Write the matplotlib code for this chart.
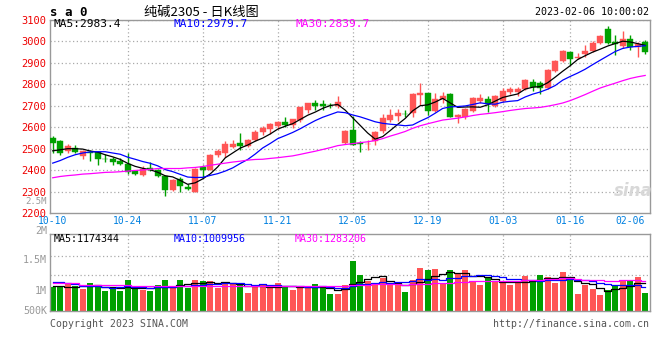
import matplotlib.pyplot as plt
import numpy as np

# ---- data (80 trading days, 2022-10-10 .. 2023-02-06) ----
opens = [2550, 2535, 2489, 2503, 2468, 2485, 2483, 2453, 2452, 2445,
         2430, 2395, 2379, 2410, 2402, 2375, 2306, 2360, 2324, 2299,
         2417, 2399, 2471, 2481, 2506, 2527, 2513, 2539, 2578, 2590,
         2604, 2624, 2608, 2631, 2682, 2714, 2706, 2704, 2700, 2528,
         2589, 2525, 2520, 2538, 2581, 2634, 2653, 2663, 2665, 2749,
         2760, 2677, 2731, 2754, 2645, 2649, 2677, 2723, 2729, 2700,
         2723, 2764, 2761, 2779, 2810, 2805, 2784, 2860, 2906, 2951,
         2921, 2941, 2956, 2989, 3058, 2994, 2979, 3009, 2971, 2997]
highs = [2559, 2540, 2524, 2517, 2493, 2493, 2490, 2474, 2463, 2455,
         2478, 2400, 2418, 2440, 2408, 2378, 2359, 2369, 2337, 2410,
         2425, 2475, 2497, 2536, 2539, 2573, 2547, 2585, 2604, 2619,
         2627, 2645, 2639, 2695, 2714, 2728, 2728, 2711, 2746, 2589,
         2654, 2535, 2539, 2581, 2662, 2683, 2683, 2680, 2757, 2807,
         2760, 2757, 2761, 2757, 2662, 2691, 2741, 2752, 2744, 2749,
         2784, 2788, 2788, 2826, 2825, 2814, 2871, 2910, 2959, 2951,
         2944, 2982, 3000, 3030, 3068, 3027, 3046, 3030, 2997, 3005]
lows = [2479, 2472, 2478, 2478, 2454, 2445, 2426, 2436, 2426, 2424,
        2382, 2377, 2374, 2398, 2367, 2281, 2305, 2298, 2306, 2299,
        2364, 2399, 2463, 2463, 2501, 2494, 2509, 2535, 2562, 2570,
        2593, 2600, 2598, 2624, 2665, 2680, 2680, 2689, 2689, 2523,
        2515, 2484, 2496, 2515, 2573, 2626, 2630, 2645, 2649, 2703,
        2657, 2669, 2714, 2646, 2619, 2639, 2672, 2711, 2672, 2695,
        2715, 2753, 2746, 2773, 2769, 2756, 2779, 2855, 2901, 2890,
        2918, 2924, 2948, 2985, 2985, 2936, 2967, 2959, 2925, 2941]
closes = [2527, 2479, 2512, 2484, 2489, 2482, 2452, 2452, 2436, 2430,
          2390, 2382, 2407, 2402, 2372, 2308, 2356, 2326, 2311, 2407,
          2399, 2471, 2489, 2521, 2521, 2512, 2542, 2578, 2594, 2616,
          2624, 2611, 2636, 2692, 2714, 2697, 2698, 2701, 2718, 2582,
          2518, 2522, 2524, 2576, 2642, 2657, 2666, 2661, 2754, 2760,
          2677, 2731, 2746, 2649, 2657, 2685, 2734, 2737, 2706, 2744,
          2769, 2776, 2776, 2819, 2788, 2784, 2865, 2906, 2956, 2916,
          2928, 2954, 2989, 3024, 2989, 2985, 3009, 2971, 2986, 2948]
volumes_k = [1022, 1050, 1134, 1050, 924, 1176, 1092, 840, 952, 840,
             1302, 924, 882, 840, 1092, 1302, 952, 1302, 980, 1302,
             1260, 1260, 980, 1204, 1134, 1190, 756, 1022, 1092, 952,
             1176, 1050, 882, 1050, 952, 1134, 980, 714, 714, 1092,
             2100, 1512, 1260, 1092, 1372, 1092, 1092, 812, 1302, 1820,
             1722, 1764, 1120, 1722, 1582, 1722, 1274, 1092, 1400, 1204,
             1204, 1092, 1162, 1470, 1302, 1512, 1442, 1190, 1638, 1330,
             714, 1092, 924, 672, 882, 1092, 1260, 1302, 1442, 756]

# moving-average values at the start of the window (history before 10-10)
ma5_head = [2490, 2495, 2500, 2500]
ma10_head = [2433, 2445, 2460, 2472, 2480, 2485, 2486, 2486, 2480]
ma30_head = [2365, 2371, 2375, 2378, 2382, 2384, 2387, 2390, 2391, 2393,
             2396, 2399, 2401, 2404, 2408, 2408, 2408, 2408, 2411, 2413,
             2417, 2423, 2428, 2433, 2438, 2442, 2447, 2450, 2451]
vma5_head = [1050, 1050, 1022, 994]
vma10_head = [1204, 1204, 1176, 1148, 1064, 1064, 1064, 1008, 980]
vma30_head = [1162] * 4 + [1092] * 7 + [1064] * 9 + [1050] * 9

date_pos = [0, 10, 20, 30, 40, 50, 60, 69, 79]
date_labels = ['10-10', '10-24', '11-07', '11-21', '12-05', '12-19', '01-03', '01-16', '02-06']
grid_pos = [10, 20, 30, 40, 50, 60, 69]
price_ticks = list(range(2200, 3200, 100))


def moving_avg(values, n, head):
    values = np.asarray(values, dtype=float)
    out = np.full(len(values), np.nan)
    for i in range(n - 1, len(values)):
        out[i] = values[i - n + 1:i + 1].mean()
    out[:len(head)] = head
    return out


RED = '#ff5555'
GREEN = '#00a000'
GRID = '#aaaaaa'
FRAME = '#999999'
MONO = 'DejaVu Sans Mono'

W, H = 660, 360
fig = plt.figure(figsize=(W / 100, H / 100), dpi=100)
fig.patch.set_facecolor('white')


def px(x, y):
    # pixel position (from top-left) -> figure fraction
    return x / W, 1 - y / H


o = np.array(opens, float)
c = np.array(closes, float)
hi = np.array(highs, float)
lo = np.array(lows, float)
vol = np.array(volumes_k, float) * 1000
x = np.arange(len(o))
colors = np.where(c >= o, RED, GREEN)

# ---- price panel ----
ax = fig.add_axes([50 / W, 1 - 213.3 / H, 600 / W, 193.8 / H])
ax.set_xlim(-0.36, 79.64)
ax.set_ylim(2200, 3100)
for lvl in price_ticks[1:]:
    ax.axhline(lvl, color=GRID, lw=0.9, ls=(0, (1, 2)), zorder=0)
for g in grid_pos:
    ax.axvline(g, color=GRID, lw=0.9, ls=(0, (1, 2)), zorder=0)

ax.vlines(x, lo, hi, color=colors, lw=1, zorder=2)
body = np.maximum(np.abs(c - o), 1.5)
ax.bar(x, body, bottom=np.minimum(o, c), width=0.78, color=colors,
       edgecolor=colors, linewidth=0.3, zorder=3)

ax.plot(x, moving_avg(c, 5, ma5_head), color='black', lw=0.9, zorder=4)
ax.plot(x, moving_avg(c, 10, ma10_head), color='#0000ff', lw=0.9, zorder=4)
ax.plot(x, moving_avg(c, 30, ma30_head), color='#ff00ff', lw=0.9, zorder=4)

ax.set_yticks(price_ticks)
ax.set_yticklabels([str(t) for t in price_ticks], color='#ee0000',
                   fontsize=7.5, family=MONO)
ax.tick_params(axis='y', length=0, pad=3)
ax.set_xticks(date_pos)
ax.set_xticklabels(date_labels, color='#0080e0', fontsize=7, family=MONO)
ax.get_xticklabels()[-1].set_ha('right')
ax.get_xticklabels()[-1].set_x(79.64)
ax.tick_params(axis='x', length=0, pad=2)
for s in ax.spines.values():
    s.set_color(FRAME)
    s.set_linewidth(1)

# ---- volume panel ----
vax = fig.add_axes([50 / W, 1 - 311 / H, 600 / W, 76.7 / H])
vax.set_xlim(-0.36, 79.64)
vax.set_ylim(0, 3.22e6)
for lvl in [1.51e6, 2.32e6]:
    vax.axhline(lvl, color=GRID, lw=0.9, ls=(0, (1, 2)), zorder=0)
for g in grid_pos:
    vax.axvline(g, color=GRID, lw=0.9, ls=(0, (1, 2)), zorder=0)
vax.bar(x, vol, width=0.78, color=colors, zorder=2)
vax.plot(x, moving_avg(vol, 5, np.array(vma5_head) * 1000), color='black',
         lw=0.9, drawstyle='steps-mid', zorder=3)
vax.plot(x, moving_avg(vol, 10, np.array(vma10_head) * 1000), color='#0000ff',
         lw=0.9, drawstyle='steps-mid', zorder=3)
vax.plot(x, moving_avg(vol, 30, np.array(vma30_head) * 1000), color='#ff00ff',
         lw=0.9, drawstyle='steps-mid', zorder=3)
vax.set_xticks([])
vax.set_yticks([])
for s in vax.spines.values():
    s.set_color(FRAME)
    s.set_linewidth(1)

# ---- texts ----
fig.text(*px(50, 12), 's a 0', fontsize=9, fontweight='bold', family=MONO,
         va='center', ha='left')
fig.text(*px(201, 12), '纯碱2305 - 日K线图', fontsize=9.5,
         family=['Noto Sans CJK SC', 'DejaVu Sans'], va='center', ha='center')
fig.text(*px(649, 12), '2023-02-06 10:00:02', fontsize=7.2, family=MONO,
         va='center', ha='right')

fig.text(*px(54, 24), 'MA5:2983.4', fontsize=8, family=MONO, color='black', va='center')
fig.text(*px(174, 24), 'MA10:2979.7', fontsize=8, family=MONO, color='#0000ff', va='center')
fig.text(*px(295, 24), 'MA30:2839.7', fontsize=8, family=MONO, color='#ff00ff', va='center')

fig.text(*px(54, 239), 'MA5:1174344', fontsize=7.2, family=MONO, color='black', va='center')
fig.text(*px(174, 239), 'MA10:1009956', fontsize=7.2, family=MONO, color='#0000ff', va='center')
fig.text(*px(295, 239), 'MA30:1283206', fontsize=7.2, family=MONO, color='#ff00ff', va='center')

for lab, yy, fs in [('2.5M', 201, 6.5), ('2M', 231, 7.2), ('1.5M', 260, 7.2),
                    ('1M', 290.5, 7.2), ('500K', 311, 7.2)]:
    fig.text(*px(47, yy), lab, fontsize=fs, family=MONO, color='#999999',
             va='center', ha='right')

fig.text(*px(50, 324), 'Copyright 2023 SINA.COM', fontsize=7.1, family=MONO,
         color='#555555', va='center', ha='left')
fig.text(*px(649, 324), 'http://finance.sina.com.cn', fontsize=7.1, family=MONO,
         color='#555555', va='center', ha='right')

fig.text(*px(633, 191), 'sina', fontsize=12, fontweight='bold', style='italic',
         color='#d8d8d8', va='center', ha='center', zorder=1)

fig.savefig('out.png', dpi=100)
